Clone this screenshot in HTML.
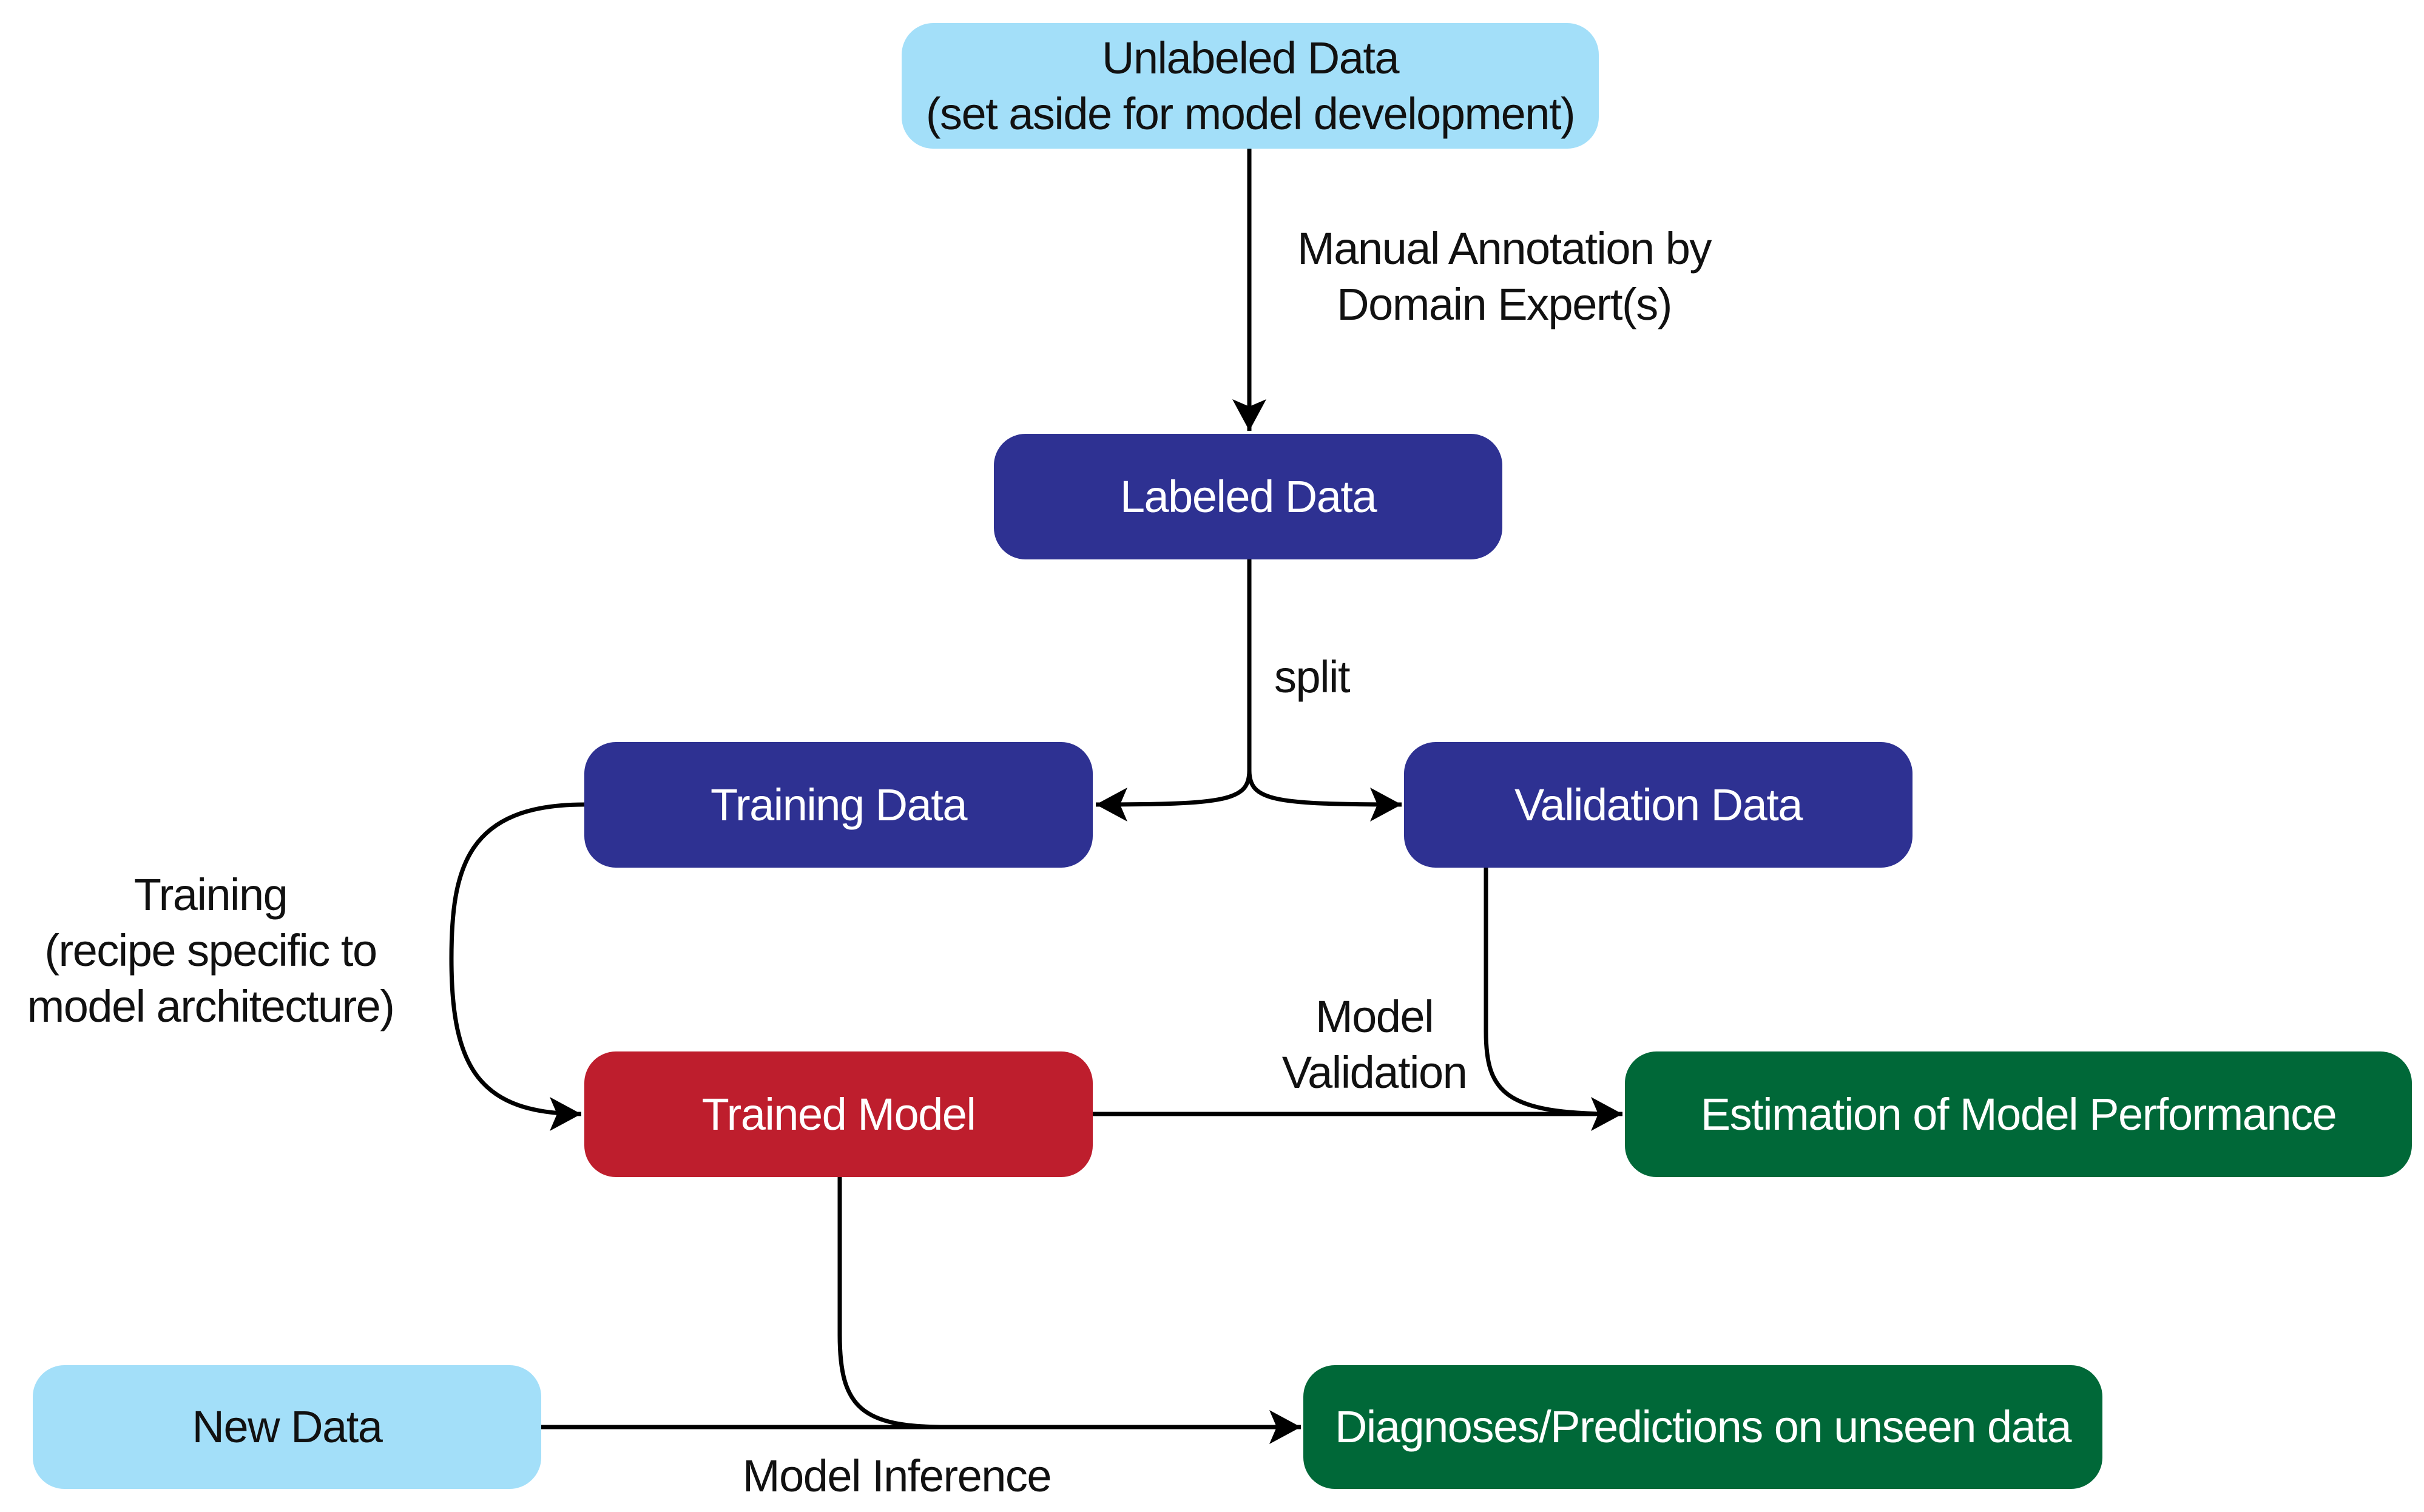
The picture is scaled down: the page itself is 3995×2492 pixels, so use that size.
<!DOCTYPE html>
<html><head><meta charset="utf-8"><style>
html,body{margin:0;padding:0;background:#fff;}
body{width:3995px;height:2492px;position:relative;overflow:hidden;font-family:"Liberation Sans",sans-serif;}
.b{position:absolute;border-radius:52px;display:flex;align-items:center;justify-content:center;text-align:center;font-size:74px;line-height:92px;letter-spacing:-1.5px;}
.lb{background:#a3dff9;color:#111;}
.db{background:#2e3192;color:#fff;}
.rd{background:#be1e2d;color:#fff;}
.gr{background:#006838;color:#fff;}
.t{position:absolute;font-size:74px;line-height:92px;text-align:center;color:#111;letter-spacing:-1.5px;white-space:nowrap;transform:translateX(-50%);}
svg{position:absolute;left:0;top:0;}
</style></head><body>
<svg width="3995" height="2492" viewBox="0 0 3995 2492">
<defs><marker id="a" markerWidth="14" markerHeight="12" refX="12" refY="6" orient="auto" markerUnits="userSpaceOnUse" viewBox="0 0 14 12" style="overflow:visible">
<path d="M-40,-22 L12,6 L-40,34 L-28,6 Z" fill="#000"/></marker></defs>
<g fill="none" stroke="#000" stroke-width="7">
<path d="M2059,245 L2059,710" marker-end="url(#a)"/>
<path d="M2059,922 L2059,1270 C2059,1320 2020,1326 1806,1326" marker-end="url(#a)"/>
<path d="M2059,1270 C2059,1320 2100,1326 2310,1326" marker-end="url(#a)"/>
<path d="M963,1326 C770,1326 744,1430 744,1580 C744,1760 790,1836 958,1836" marker-end="url(#a)"/>
<path d="M1801,1836 L2674,1836" marker-end="url(#a)"/>
<path d="M2449,1430 L2449,1700 C2449,1800 2480,1836 2665,1836"/>
<path d="M1384,1940 L1384,2200 C1384,2320 1420,2352 1560,2352"/>
<path d="M892,2352 L2144,2352" marker-end="url(#a)"/>
</g>
</svg>
<div class="b lb" style="left:1486px;top:38px;width:1149px;height:207px;">Unlabeled Data<br>(set aside for model development)</div>
<div class="b db" style="left:1638px;top:715px;width:838px;height:207px;">Labeled Data</div>
<div class="b db" style="left:963px;top:1223px;width:838px;height:207px;">Training Data</div>
<div class="b db" style="left:2314px;top:1223px;width:838px;height:207px;">Validation Data</div>
<div class="b rd" style="left:963px;top:1733px;width:838px;height:207px;">Trained Model</div>
<div class="b gr" style="left:2678px;top:1733px;width:1297px;height:207px;">Estimation of Model Performance</div>
<div class="b lb" style="left:54px;top:2250px;width:838px;height:204px;">New Data</div>
<div class="b gr" style="left:2148px;top:2250px;width:1317px;height:204px;">Diagnoses/Predictions on unseen data</div>
<div class="t" style="left:2479px;top:364px;">Manual Annotation by<br>Domain Expert(s)</div>
<div class="t" style="left:2162px;top:1070px;">split</div>
<div class="t" style="left:347px;top:1429px;">Training<br>(recipe specific to<br>model architecture)</div>
<div class="t" style="left:2265px;top:1630px;">Model<br>Validation</div>
<div class="t" style="left:1478px;top:2387px;">Model Inference</div>
</body></html>
